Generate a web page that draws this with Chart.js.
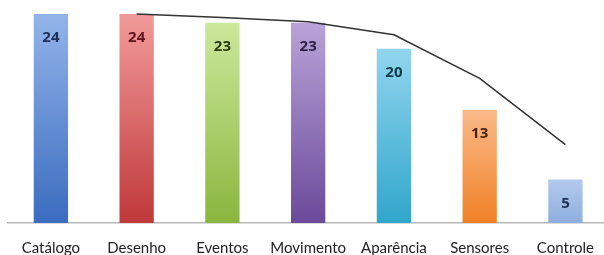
<!DOCTYPE html>
<html><head><meta charset="utf-8">
<script src="https://cdn.jsdelivr.net/npm/chart.js@4/dist/chart.umd.min.js"></script>
<style>
html,body{margin:0;padding:0;background:#fff;overflow:hidden;width:604px;height:255px}
#wrap{position:absolute;left:0;top:0;width:610px;height:255px}
</style></head>
<body><div id="wrap"><canvas id="c" width="610" height="255"></canvas></div>
<script>
const categories = ["Catálogo","Desenho","Eventos","Movimento","Aparência","Sensores","Controle"];
const barValues = [24,24,23,23,20,13,5];
const lineValues = [null,24,23.6,23.1,21.6,16.6,9.0];
const topColors = ["#93b4ea","#f29b9a","#cce89c","#b9a3d8","#91d5ee","#fbba8a","#b3caee"];
const bottomColors = ["#3a6cbf","#c0383a","#8ab63e","#6b4a9a","#30a6cb","#f08026","#8eaedd"];
const labelColors = ["#1d2f55","#5a1518","#2c3b10","#2e1f45","#0f3a4a","#4a2508","#1d2f55"];

const ctx = document.getElementById('c').getContext('2d');
function grads(context){
  const chart = context.chart;
  const ca = chart.chartArea;
  if(!ca) return topColors[context.dataIndex];
  const i = context.dataIndex;
  const yTop = chart.scales.y.getPixelForValue(barValues[i]);
  const g = chart.ctx.createLinearGradient(0, yTop, 0, ca.bottom);
  g.addColorStop(0, topColors[i]);
  g.addColorStop(1, bottomColors[i]);
  return g;
}
const labelPlugin = {
  id:'labels',
  afterDatasetsDraw(chart){
    const meta = chart.getDatasetMeta(1);
    const c = chart.ctx;
    c.save();
    c.font = 'bold 15px "Open Sans", Lato, sans-serif';
    c.textAlign='center'; c.textBaseline='middle';
    meta.data.forEach((el,i)=>{
      c.fillStyle = labelColors[i];
      c.fillText(String(barValues[i]), el.x, el.y+24);
    });
    c.restore();
  }
};
new Chart(ctx,{
  data:{
    labels:categories,
    datasets:[
      {type:'line',data:lineValues,borderColor:'#333',borderWidth:1.5,pointRadius:0,tension:0,fill:false,order:0},
      {type:'bar',data:barValues,backgroundColor:grads,barPercentage:0.4,categoryPercentage:1,order:1}
    ]
  },
  options:{
    responsive:false,animation:false,
    layout:{padding:{left:8,right:0,top:0,bottom:0}},
    plugins:{legend:{display:false},tooltip:{enabled:false}},
    scales:{
      x:{
        grid:{display:false,drawTicks:false},
        border:{display:true,color:'#b8b8b8',width:1.5},
        ticks:{color:'#222',font:{family:'Lato, "Open Sans", sans-serif',size:15},padding:16,maxRotation:0,autoSkip:false},
        afterFit(s){ s.height = 32; }
      },
      y:{display:false,min:0,max:25.6}
    }
  },
  plugins:[labelPlugin]
});
</script></body></html>
